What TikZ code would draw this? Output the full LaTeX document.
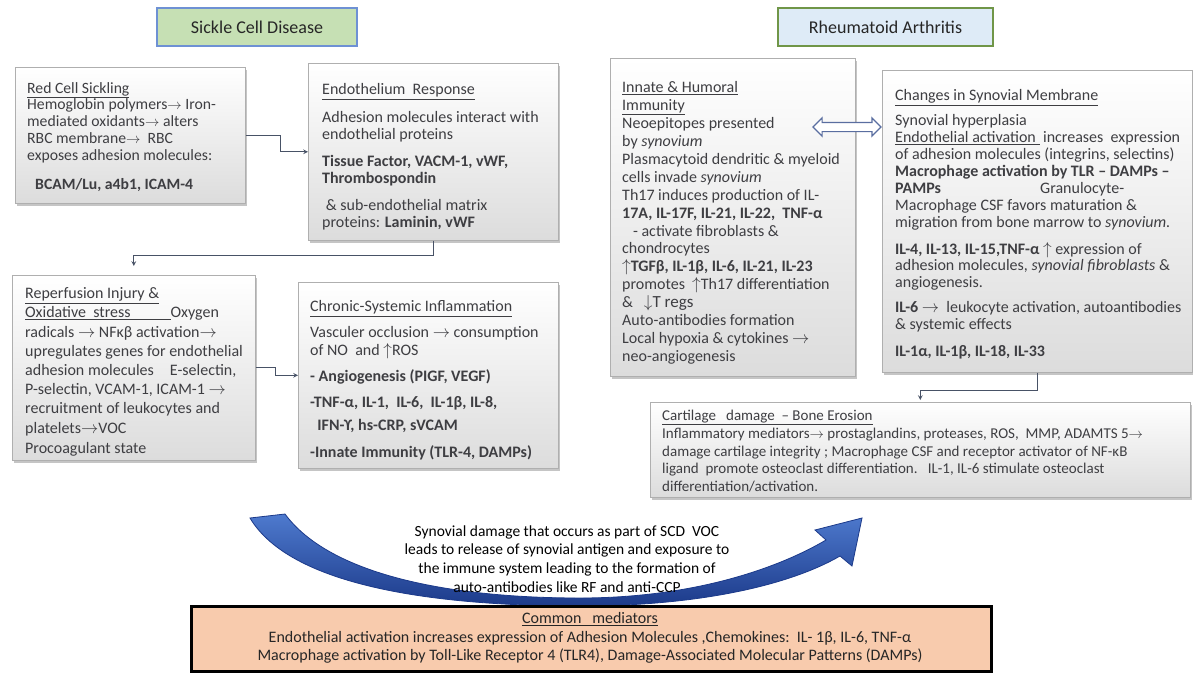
\documentclass[tikz,border=0pt]{standalone}
\usepackage{fontspec}
\setmainfont{Carlito}
\usepackage{tikz}
\usetikzlibrary{shadows,shapes.arrows}
\definecolor{box_edge}{RGB}{175, 175, 175}
\definecolor{box_low}{RGB}{220, 220, 220}
\definecolor{ink}{RGB}{62, 62, 66}
\definecolor{scd_fill}{RGB}{198, 224, 180}
\definecolor{scd_edge}{RGB}{110, 145, 212}
\definecolor{ra_fill}{RGB}{222, 235, 247}
\definecolor{ra_edge}{RGB}{112, 150, 72}
\definecolor{link}{RGB}{72, 82, 102}
\definecolor{dbl_edge}{RGB}{90, 110, 160}
\definecolor{swoosh_dark}{RGB}{28, 58, 138}
\definecolor{swoosh_light}{RGB}{78, 122, 206}
\definecolor{peach}{RGB}{248, 203, 173}
\newcommand{\gto}{\smash{\ensuremath{\rightarrow}}}
\newcommand{\gup}{\smash{\ensuremath{\uparrow}}}
\newcommand{\gdown}{\smash{\ensuremath{\downarrow}}}
\tikzstyle{pn}=[rectangle,draw=box_edge,line width=0.6pt,top color=white,
  bottom color=box_low,anchor=north west,inner sep=0pt,
  drop shadow={shadow xshift=2pt,shadow yshift=-3pt,opacity=0.45}]
\tikzstyle{tx}=[anchor=north west,inner sep=0pt,align=left,text=ink,
  font=\fontsize{16}{17}\selectfont]
\tikzstyle{hd}=[rectangle,line width=1.2pt,minimum height=38pt,
  font=\fontsize{18}{20}\selectfont,text=black!85]
\tikzstyle{ln}=[draw=link,line width=1.1pt,-stealth]

\begin{document}
\begin{tikzpicture}[x=1pt,y=-1pt]
    \useasboundingbox[fill=white] (0,0) rectangle (1193,673);
    % headings
    \node [style=hd,draw=scd_edge,fill=scd_fill,minimum width=200pt] (scd) at (257,27) {Sickle Cell Disease};
    \node [style=hd,draw=ra_edge,fill=ra_fill,minimum width=215pt] (ra) at (885.5,27) {Rheumatoid Arthritis};
    % sickle cell side
    \node [style=pn,minimum width=230pt,minimum height=136pt] (rcs) at (15,67) {};
    \node [style=tx,font=\fontsize{15.7}{16.8}\selectfont] (rcstext) at ([shift={(12,15)}]rcs.north west) {%
      \underline{Red Cell Sickling}\\
      Hemoglobin polymers\gto{} Iron-\\
      mediated oxidants\gto{} alters\\
      RBC membrane\gto\ \ RBC\\
      exposes adhesion molecules:\\[12pt]
      \hspace*{8pt}\textbf{BCAM/Lu, a4b1, ICAM-4}};
    \node [style=pn,minimum width=250pt,minimum height=177pt] (endo) at (308,63) {};
    \node [style=tx,font=\fontsize{16}{17.5}\selectfont] (endotext) at ([shift={(14,20.5)}]endo.north west) {%
      \underline{Endothelium\ \ Response}\\[10pt]
      Adhesion molecules interact with\\
      endothelial proteins\\[9pt]
      \textbf{Tissue Factor, VACM-1, vWF,}\\
      \textbf{Thrombospondin}\\[9pt]
      \ \& sub-endothelial matrix\\
      proteins: \textbf{Laminin, vWF}};
    \node [style=pn,minimum width=243pt,minimum height=185pt] (rep) at (12,275) {};
    \node [style=tx,font=\fontsize{16}{19.2}\selectfont] (reptext) at ([shift={(13,12.5)}]rep.north west) {%
      \underline{Reperfusion Injury \&}\\
      \underline{Oxidative\ \ stress\hspace*{40pt}}Oxygen\\
      radicals \gto{} NFκβ activation\gto\\
      upregulates genes for endothelial\\
      adhesion molecules\quad E-selectin,\\
      P-selectin, VCAM-1, ICAM-1 \gto\\
      recruitment of leukocytes and\\
      platelets\gto VOC\\[1pt]
      Procoagulant state};
    \node [style=pn,minimum width=260pt,minimum height=186pt] (chr) at (298,282) {};
    \node [style=tx,font=\fontsize{16}{18}\selectfont] (chrtext) at ([shift={(12,18.5)}]chr.north west) {%
      \underline{Chronic-Systemic Inflammation}\\[8pt]
      Vasculer occlusion \gto{} consumption\\
      of NO\ \ and \gup ROS\\[8pt]
      \textbf{- Angiogenesis (PIGF, VEGF)}\\[8pt]
      \textbf{-TNF-α, IL-1,\ \ IL-6,\ \ IL-1β, IL-8,}\\[5pt]
      \textbf{\ \ IFN-ϒ, hs-CRP, sVCAM}\\[9pt]
      \textbf{-Innate Immunity (TLR-4, DAMPs)}};
    % rheumatoid arthritis side
    \node [style=pn,minimum width=245pt,minimum height=318pt] (inn) at (610,58) {};
    \node [style=tx,font=\fontsize{16}{17.9}\selectfont] (inntext) at ([shift={(12,23.5)}]inn.north west) {%
      \underline{Innate \& Humoral}\\
      \underline{Immunity}\\
      Neoepitopes presented\\
      by \textit{synovium}\\
      Plasmacytoid dendritic \& myeloid\\
      cells invade \textit{synovium}\\
      Th17 induces production of IL-\\
      \textbf{17A, IL-17F, IL-21, IL-22,\ \ TNF-α}\\
      \ \ \ - activate fibroblasts \&\\
      chondrocytes\\
      \textbf{\gup TGFβ, IL-1β, IL-6, IL-21, IL-23}\\
      promotes\ \ \gup Th17 differentiation\\
      \&\ \ \ \gdown{\fontsize{17}{17.9}\selectfont T regs}\\
      Auto-antibodies formation\\
      Local hypoxia \& cytokines \gto\\
      neo-angiogenesis};
    \node [style=pn,minimum width=310pt,minimum height=302pt] (syn) at (882,70) {};
    \node [style=tx,font=\fontsize{16}{16.9}\selectfont] (syntext) at ([shift={(13,19.5)}]syn.north west) {%
      \underline{Changes in Synovial Membrane}\\[8pt]
      Synovial hyperplasia\\
      \underline{Endothelial activation\ }\ increases\ \ expression\\
      of adhesion molecules (integrins, selectins)\\
      \textbf{Macrophage activation by TLR – DAMPs –}\\
      \makebox[145pt][l]{\textbf{PAMPs}}Granulocyte-\\
      Macrophage CSF favors maturation \&\\
      migration from bone marrow to \textit{synovium.}\\[10pt]
      \textbf{IL-4, IL-13, IL-15,TNF-α} \gup{} expression of\\
      adhesion molecules, \textit{synovial fibroblasts} \&\\
      angiogenesis.\\[8pt]
      \textbf{IL-6} \gto\ \ leukocyte activation, autoantibodies\\
      \& systemic effects\\[10pt]
      \textbf{IL-1α, IL-1β, IL-18, IL-33}};
    \node [double arrow,draw=dbl_edge,fill=white,line width=1.2pt,inner sep=4pt,
      double arrow head extend=4.5pt,minimum height=68pt] (dbl) at (847,127) {};
    \node [style=pn,minimum width=540pt,minimum height=95pt] (car) at (650,402) {};
    \node [style=tx,font=\fontsize{15}{17.75}\selectfont] (cartext) at ([shift={(12,8)}]car.north west) {%
      \underline{Cartilage\ \ \ damage\ \ – Bone Erosion}\\
      Inflammatory mediators\gto{} prostaglandins, proteases, ROS,\ \ MMP, ADAMTS 5\gto\\
      damage cartilage integrity ; Macrophage CSF and receptor activator of NF-κB\\
      ligand\ \ promote osteoclast differentiation.\ \ \ IL-1, IL-6 stimulate osteoclast\\
      differentiation/activation.};
    % swoosh from one side to the other
    \shadedraw [draw=swoosh_dark,line width=0.8pt,top color=swoosh_light,bottom color=swoosh_dark]
      (250,518) .. controls (290,585) and (430,606) .. (580,606)
      .. controls (700,606) and (790,585) .. (840,556)
      -- (852,566) -- (862,518) -- (815,530) -- (826,540)
      .. controls (775,570) and (690,598) .. (580,598)
      .. controls (450,598) and (330,575) .. (285,514) -- cycle;
    \node [text=black,align=center,font=\fontsize{15.5}{18.7}\selectfont] (voc) at (567,559) {%
      Synovial damage that occurs as part of SCD\ \ VOC\\
      leads to release of synovial antigen and exposure to\\
      the immune system leading to the formation of\\
      auto-antibodies like RF and anti-CCP};
    \node [draw=black,line width=2.5pt,fill=peach,minimum width=800pt,minimum height=65pt,
      anchor=north west] (common) at (190,605) {};
    \node [text=black!85,align=center,font=\fontsize{16}{18.5}\selectfont] (commontext) at (590,638) {%
      \underline{Common\ \ \ mediators}\\
      Endothelial activation increases expression of Adhesion Molecules ,Chemokines:\ \ IL- 1β, IL-6, TNF-α\\
      Macrophage activation by Toll-Like Receptor 4 (TLR4), Damage-Associated Molecular Patterns (DAMPs)};
    % links
    \draw [style=ln] (rcs.east) -- ++(35,0) |- (endo.west);
    \draw [style=ln] (endo.south) -- ++(0,15) -| ([yshift=9pt]rep.north);
    \draw [style=ln] (rep.east) -- ++(20,0) |- (chr.west);
    \draw [style=ln] (syn.south) -- ++(0,18) -| ([yshift=2pt]car.north);
  \end{tikzpicture}
\end{document}
